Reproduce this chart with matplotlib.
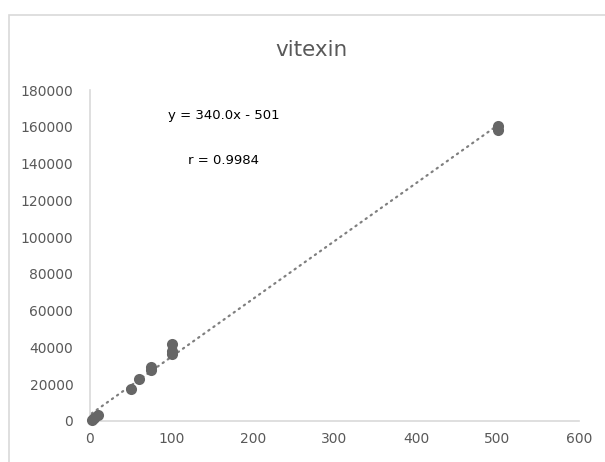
import numpy as np
import matplotlib
matplotlib.use('Agg')
import matplotlib.pyplot as plt
from matplotlib.patches import Rectangle

# calibration points
conc = [2, 5, 10, 50, 60, 75, 75, 100, 100, 100, 500, 500]
area = [500, 1500, 3000, 17500, 22700, 27500, 29500, 36500, 38000, 42000, 158500, 160500]

x_ticks = [0, 100, 200, 300, 400, 500, 600]
y_ticks = [0, 20000, 40000, 60000, 80000, 100000, 120000, 140000, 160000, 180000]

eq_text = 'y = 340.0x - 501'
r_text = 'r = 0.9984'

grey_txt = '#595959'
grey_line = '#d9d9d9'

fig = plt.figure(figsize=(6.05, 4.62), dpi=100)
fig.patches.append(Rectangle((9 / 605, -0.1), 1.2, 1.1 - 15 / 462,
                             transform=fig.transFigure, fill=False,
                             edgecolor=grey_line, linewidth=1.2))
ax = fig.add_axes([90 / 605, 1 - 421 / 462, 489 / 605, 331 / 462])

# linear trendline through the data
k, b = np.polyfit(conc, area, 1)
xs = np.array([min(conc), max(conc)])
ax.plot(xs, k * xs + b, linestyle=(0, (0.6, 2.2)), color='#7f7f7f',
        linewidth=1.6, dash_capstyle='round', zorder=2)
ax.scatter(conc, area, s=64, color='#666666', zorder=3, clip_on=False,
           linewidths=0)

ax.set_xlim(0, 600)
ax.set_ylim(0, 180000)
ax.set_xticks(x_ticks)
ax.set_yticks(y_ticks)
ax.tick_params(length=0, labelsize=10, labelcolor=grey_txt)
ax.tick_params(axis='y', pad=12)
ax.tick_params(axis='x', pad=8)
for s in ['top', 'right']:
    ax.spines[s].set_visible(False)
for s in ['left', 'bottom']:
    ax.spines[s].set_color(grey_line)
    ax.spines[s].set_linewidth(1.2)

fig.text(311 / 605, 1 - 50 / 462, 'vitexin', ha='center', va='center',
         fontsize=15.5, color=grey_txt)
fig.text(224 / 605, 1 - 116 / 462, eq_text, ha='center', va='center',
         fontsize=9.5, color='black')
fig.text(224 / 605, 1 - 160 / 462, r_text, ha='center', va='center',
         fontsize=9.5, color='black')

fig.savefig('out.png', dpi=100)
